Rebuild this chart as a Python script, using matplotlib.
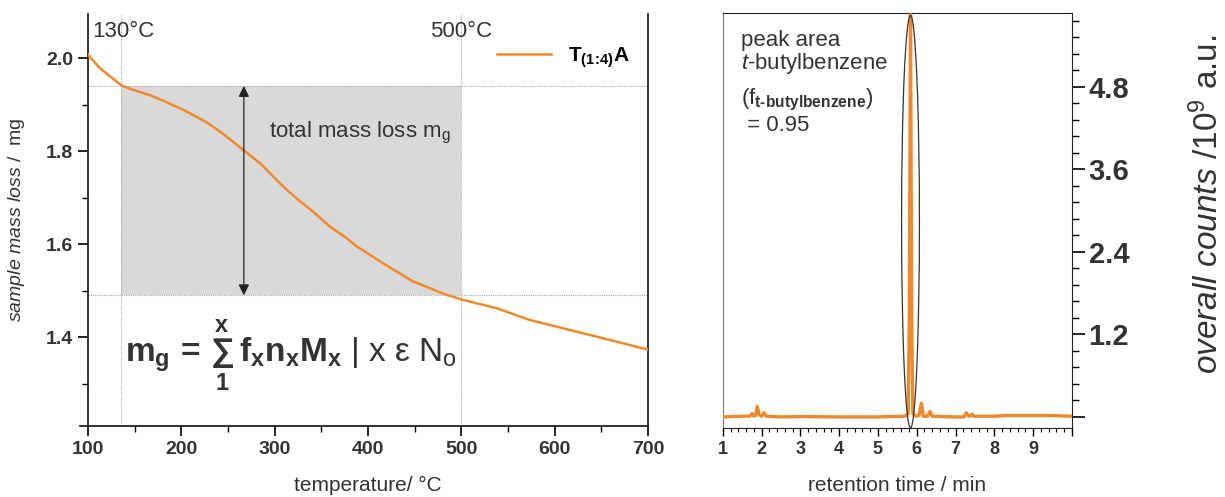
import matplotlib
matplotlib.use("Agg")
import matplotlib.pyplot as plt
from matplotlib.patches import Ellipse, Rectangle
from matplotlib.ticker import MultipleLocator, FixedLocator

# thermogravimetry curve T(1:4)A
temp = [100, 113, 136, 148, 168, 181, 204, 227, 245, 266, 286, 307, 323,
        341, 359, 377, 388, 416, 448, 484, 502, 538, 573, 609, 645, 700]
mass = [2.007, 1.978, 1.941, 1.932, 1.919, 1.908, 1.887, 1.862, 1.837, 1.803,
        1.771, 1.728, 1.699, 1.670, 1.638, 1.613, 1.595, 1.559, 1.520, 1.491,
        1.480, 1.462, 1.437, 1.419, 1.401, 1.373]

t_start, t_end = 135, 500
m_start, m_end = 1.94, 1.49

# chromatogram (retention time / min, counts / 1e9)
rt = [1.0, 1.5, 1.7, 1.76, 1.8, 1.85, 1.89, 1.94, 2.0, 2.06, 2.12, 2.5, 3.0,
      4.0, 5.0, 5.7, 5.78, 5.81, 5.84, 5.87, 5.9, 5.98, 6.06, 6.12, 6.17,
      6.28, 6.34, 6.4, 7.0, 7.22, 7.28, 7.34, 7.4, 7.43, 7.48, 8.0, 8.3,
      9.0, 9.5, 10.0]
counts = [0.0, 0.01, 0.01, 0.05, 0.01, 0.03, 0.155, 0.03, 0.01, 0.06, 0.01,
          0.0, 0.005, 0.0, 0.0, 0.01, 0.05, 1.5, 5.85, 1.5, 0.05, 0.01, 0.02,
          0.20, 0.01, 0.01, 0.08, 0.01, 0.0, 0.0, 0.06, 0.01, 0.02, 0.04,
          0.01, 0.01, 0.02, 0.02, 0.02, 0.01]

orange = "#f0892b"
txt = "#333333"

plt.rcParams["font.family"] = ["Liberation Sans", "DejaVu Sans"]
plt.rcParams["mathtext.fontset"] = "custom"
plt.rcParams["mathtext.rm"] = "Liberation Sans"
plt.rcParams["mathtext.it"] = "Liberation Sans:italic"
plt.rcParams["mathtext.bf"] = "Liberation Sans:bold"
plt.rcParams["axes.edgecolor"] = "#222222"

fig = plt.figure(figsize=(12.25, 4.97), dpi=100)

# ---- left panel: TGA
ax1 = fig.add_axes([0.0718, 0.143, 0.4572, 0.829])
ax1.add_patch(Rectangle((t_start, m_end), t_end - t_start, m_start - m_end,
                        color="#d9d9d9", lw=0, zorder=0))
for v in (t_start, t_end):
    ax1.axvline(v, color="#aaaaaa", ls=(0, (1, 1)), lw=0.8, zorder=1)
for h in (m_start, m_end):
    ax1.axhline(h, color="#aaaaaa", ls=(0, (1, 1)), lw=0.8, zorder=1)
ax1.plot(temp, mass, color=orange, lw=1.8,
         label=r"$\mathbf{T_{(1\!:\!4)}A}$", zorder=3)
ax1.annotate("", xy=(267, m_end), xytext=(267, m_start),
             arrowprops=dict(arrowstyle="<|-|>", color="#222222", lw=0.9,
                             mutation_scale=16, shrinkA=0, shrinkB=0), zorder=4)
# bottom axis line runs a little past the y axis
ax1.plot([-0.015, 0], [0, 0], transform=ax1.transAxes, color="#222222",
         lw=1.3, clip_on=False)

ax1.set_xlim(100, 700)
ax1.set_ylim(1.209, 2.095)
ax1.xaxis.set_major_locator(MultipleLocator(100))
ax1.xaxis.set_minor_locator(MultipleLocator(50))
ax1.yaxis.set_major_locator(FixedLocator([1.4, 1.6, 1.8, 2.0]))
ax1.yaxis.set_minor_locator(MultipleLocator(0.1))
ax1.tick_params(which="major", length=7, width=1.2, labelsize=14)
ax1.tick_params(which="minor", length=4, width=1.0)
for lab in ax1.get_xticklabels() + ax1.get_yticklabels():
    lab.set_fontweight("bold")
    lab.set_color(txt)
ax1.spines["top"].set_visible(False)
for s in ("left", "bottom", "right"):
    ax1.spines[s].set_linewidth(1.3)

ax1.text(105, 2.057, "130°C", fontsize=16, color=txt, va="center")
ax1.text(466, 2.057, "500°C", fontsize=16, color=txt, va="center")
ax1.text(294, 1.839, r"total mass loss m$_\mathregular{g}$", fontsize=16,
         color=txt, va="center")
ax1.text(140, 1.362,
         r"$\mathbf{m_g\,=\,\sum_1^x\ f_x n_x M_x}$ | x ε N$_\mathrm{o}$",
         fontsize=24, color=txt, va="center")
ax1.legend(loc="upper right", frameon=False, fontsize=15, handlelength=2.6,
           bbox_to_anchor=(1.0, 0.97))

ax1.set_xlabel("temperature/ °C", fontsize=15, color=txt, labelpad=13)
ax1.set_ylabel(r"$\mathit{sample\ mass\ loss}$ /  mg", fontsize=14, color=txt,
               labelpad=14)

# ---- right panel: GC-MS chromatogram
ax2 = fig.add_axes([0.590, 0.139, 0.285, 0.835])
ax2.plot(rt, counts, color=orange, lw=2.4, zorder=3)
ax2.add_patch(Ellipse((5.84, 2.84), 0.46, 6.0, fill=False, lw=0.9,
                      ec="#333333", zorder=4))
ax2.set_xlim(1, 10)
ax2.set_ylim(-0.16, 5.876)
ax2.yaxis.tick_right()
ax2.yaxis.set_label_position("right")
ax2.xaxis.set_major_locator(FixedLocator(range(1, 11)))
ax2.xaxis.set_minor_locator(MultipleLocator(0.2))
ax2.set_xticklabels([str(i) for i in range(1, 10)] + [""])
ax2.yaxis.set_major_locator(FixedLocator([0, 1.2, 2.4, 3.6, 4.8]))
ax2.yaxis.set_minor_locator(MultipleLocator(0.24))
ax2.set_yticklabels(["", "1.2", "2.4", "3.6", "4.8"])
ax2.tick_params(axis="x", which="major", length=6, width=1.0, labelsize=13)
ax2.tick_params(axis="x", which="minor", length=3, width=0.8)
ax2.tick_params(axis="y", which="major", length=9, width=1.2, labelsize=21, pad=3)
ax2.tick_params(axis="y", which="minor", length=5, width=1.0)
for lab in ax2.get_xticklabels() + ax2.get_yticklabels():
    lab.set_fontweight("bold")
    lab.set_color(txt)
ax2.spines["left"].set_color("#777777")

ax2.text(1.46, 5.48, "peak area", fontsize=16, color=txt, va="center")
ax2.text(1.46, 5.14, r"$\mathit{t}$-butylbenzene", fontsize=16, color=txt,
         va="center")
ax2.text(1.46, 4.61, r"(f$_\mathbf{t‐butylbenzene}$)", fontsize=16, color=txt,
         va="center")
ax2.text(1.46, 4.24, " = 0.95", fontsize=16, color=txt, va="center")

ax2.set_xlabel("retention time / min", fontsize=15, color=txt, labelpad=13)
ax2.set_ylabel(r"$\mathit{overall\ counts}$ /10$^\mathregular{9}$ a.u.",
               fontsize=24, color=txt, labelpad=44)
ax2.yaxis.label.set_y(0.54)

plt.savefig("out.png", dpi=100)
